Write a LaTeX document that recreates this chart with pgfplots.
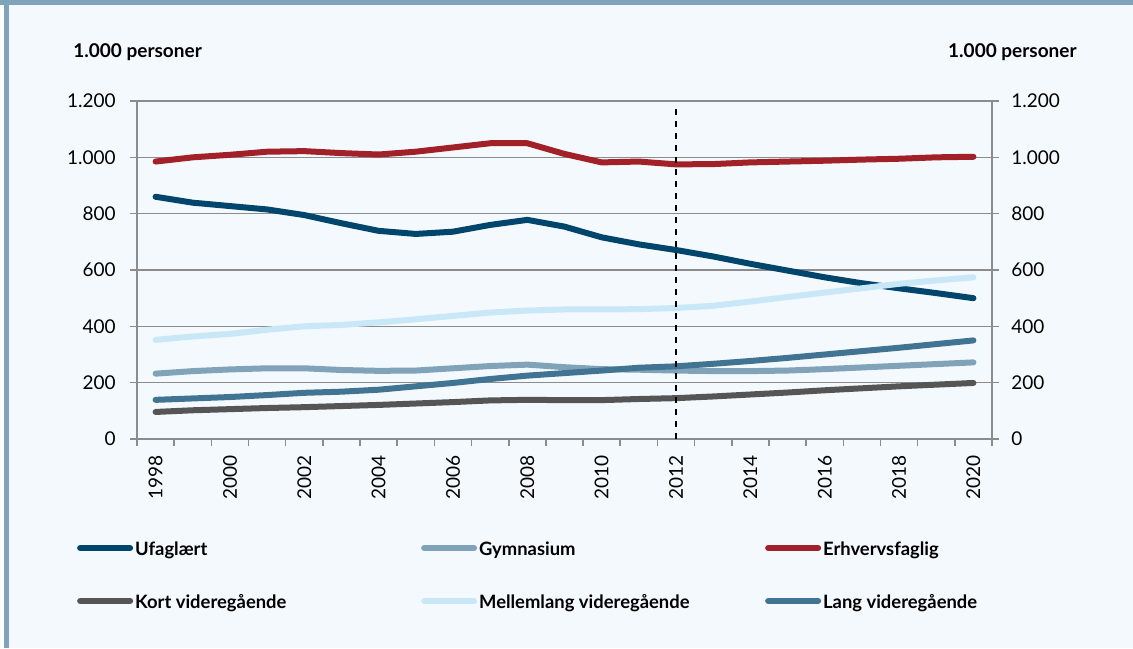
\documentclass[border=0pt]{standalone}
\usepackage{pgfplots}
\pgfplotsset{compat=1.18}
\usepackage{fontspec}
\setmainfont{Lato}
\definecolor{bg}{RGB}{244,249,253}
\definecolor{band}{RGB}{127,163,186}
\definecolor{gridgray}{RGB}{140,140,140}
\definecolor{cUfag}{RGB}{0,69,107}
\definecolor{cGym}{RGB}{128,163,185}
\definecolor{cErh}{RGB}{162,32,39}
\definecolor{cKort}{RGB}{85,85,85}
\definecolor{cMel}{RGB}{200,232,248}
\definecolor{cLang}{RGB}{64,116,146}
\pgfplotstableread{
year ufag gym erh kort mel lang
1998 860 232 985 96 352 139
1999 839 241 1000 102 364 144
2000 827 247 1009 106 373 149
2001 815 251 1020 110 388 156
2002 795 251 1022 113 400 164
2003 766 245 1015 117 405 168
2004 739 242 1010 121 414 175
2005 728 243 1020 126 425 187
2006 736 251 1035 131 437 199
2007 760 259 1050 137 449 213
2008 778 264 1050 139 456 225
2009 754 255 1012 138 460 234
2010 716 248 982 138 460 243
2011 691 246 985 142 461 253
2012 671 243 975 145 465 258
2013 648 241 976 151 473 267
2014 622 241 982 158 488 277
2015 598 243 985 165 504 288
2016 574 248 988 173 520 300
2017 553 254 992 180 535 312
2018 535 260 995 187 551 324
2019 518 266 1000 193 563 337
2020 500 272 1002 199 574 350
}\datatable
\begin{document}
\begin{tikzpicture}
\fill[bg] (0,0) rectangle (566.5pt,324pt);
\fill[white] (0,0) rectangle (2pt,324pt);
\fill[band] (2pt,0) rectangle (4.25pt,324pt);
\fill[band] (0,321.6pt) rectangle (566.5pt,324pt);
\node[anchor=west, font=\bfseries\fontsize{9.5}{10}\selectfont, inner sep=0pt] at (36.5pt,298pt) {1.000 personer};
\node[anchor=east, font=\bfseries\fontsize{9.5}{10}\selectfont, inner sep=0pt] at (538.5pt,298pt) {1.000 personer};
\begin{axis}[
  at={(68.5pt,104.5pt)}, anchor=south west,
  width=427.5pt, height=169pt, scale only axis,
  xmin=1997.5, xmax=2020.5, ymin=0, ymax=1200,
  axis line style={draw=gridgray, line width=0.8pt},
  ytick={0,200,...,1200},
  yticklabels={0,200,400,600,800,{1.000},{1.200}},
  ytick pos=both, yticklabel pos=left,
  xtick={1997.5,1998.5,...,2020.5}, xticklabels={},
  xtick pos=bottom,
  tick align=outside, major tick length=3.5pt,
  tick style={draw=gridgray, line width=0.8pt},
  ymajorgrids, grid style={draw=gridgray, line width=0.8pt},
  /pgf/number format/assume math mode=true,
  yticklabel style={font=\fontsize{9.5}{11}\selectfont, anchor=east, inner sep=0pt, xshift=-7pt},
  legend columns=3,
  legend style={at={(-0.070,-0.305)}, anchor=north west, draw=none, fill=none,
    inner sep=0pt, outer sep=0pt, row sep=18pt, column sep=0pt,
    font=\bfseries\fontsize{9.2}{11}\selectfont,
    nodes={inner sep=0pt}},
  legend image code/.code={\draw[#1, line width=3pt, line cap=round] (1.5pt,1.2pt) -- (26.5pt,1.2pt);},
  every axis plot/.append style={line width=3pt, line cap=round, line join=round},
]
\addplot[cUfag] table[x=year,y=ufag] {\datatable};
\addlegendentry{\makebox[144pt][l]{\hspace{1pt}Ufaglært}}
\addplot[cGym] table[x=year,y=gym] {\datatable};
\addlegendentry{\makebox[144pt][l]{\hspace{1pt}Gymnasium}}
\addplot[cErh] table[x=year,y=erh] {\datatable};
\addlegendentry{\makebox[144pt][l]{\hspace{1pt}Erhvervsfaglig}}
\addplot[cKort] table[x=year,y=kort] {\datatable};
\addlegendentry{\makebox[144pt][l]{\hspace{1pt}Kort videregående}}
\addplot[cMel] table[x=year,y=mel] {\datatable};
\addlegendentry{\makebox[144pt][l]{\hspace{1pt}Mellemlang videregående}}
\addplot[cLang] table[x=year,y=lang] {\datatable};
\addlegendentry{\makebox[144pt][l]{\hspace{1pt}Lang videregående}}
\addplot[black, line width=0.8pt, dashed, line cap=butt, forget plot] coordinates {(2012,0) (2012,1178)};
\end{axis}
\begin{axis}[
  at={(68.5pt,104.5pt)}, anchor=south west,
  width=427.5pt, height=169pt, scale only axis,
  xmin=1997.5, xmax=2020.5, ymin=0, ymax=1200,
  axis line style={draw=none},
  ytick={0,200,...,1200},
  yticklabels={0,200,400,600,800,{1.000},{1.200}},
  ytick pos=right, yticklabel pos=right,
  xtick={1998,2000,...,2020},
  xticklabels={1998,2000,2002,2004,2006,2008,2010,2012,2014,2016,2018,2020},
  xtick pos=bottom,
  major tick length=0pt, tick style={draw=none},
  /pgf/number format/assume math mode=true,
  yticklabel style={font=\fontsize{9.5}{11}\selectfont, anchor=west, inner sep=0pt, xshift=9.5pt},
  xticklabel style={font=\fontsize{9.5}{11}\selectfont, inner sep=0pt, yshift=-8pt, rotate=90, anchor=east},
]
\addplot[draw=none, forget plot] coordinates {(1998,0)};
\end{axis}
\end{tikzpicture}
\end{document}
